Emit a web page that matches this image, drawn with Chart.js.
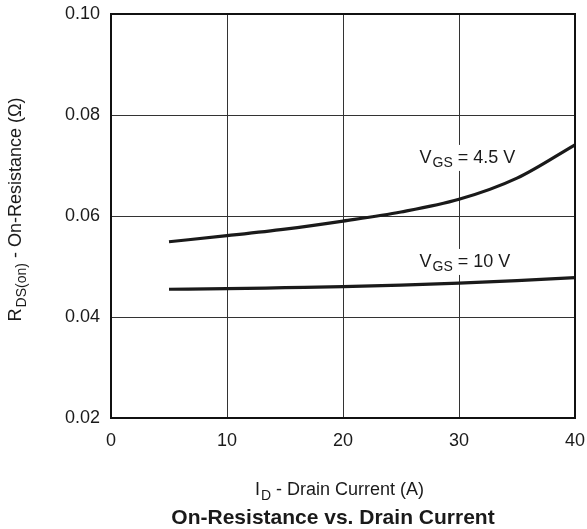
<!DOCTYPE html>
<html>
<head>
<meta charset="utf-8">
<script src="https://cdn.jsdelivr.net/npm/chart.js@4.4.0/dist/chart.umd.min.js"></script>
<style>
  html, body { margin: 0; padding: 0; background: #fff; }
  #wrap { width: 587px; height: 529px; }
</style>
</head>
<body>
<div id="wrap"><canvas id="rdsChart" width="587" height="529"></canvas></div>
<script>
// values
const currentA = [5, 10, 15, 20, 25, 30, 35, 40];
const rdsVgs45 = [0.0549, 0.0561, 0.0574, 0.0590, 0.0608, 0.0633, 0.0675, 0.0741];
const rdsVgs10 = [0.0455, 0.0456, 0.0458, 0.0460, 0.0463, 0.0467, 0.0472, 0.0478];
const xTicks = [0, 10, 20, 30, 40];
const yTicks = [0.02, 0.04, 0.06, 0.08, 0.10];
const curveLabels = [['V', 'GS', ' = 4.5 V'], ['V', 'GS', ' = 10 V']];

const FONT = '"Liberation Sans", Arial, Helvetica, sans-serif';
const INK = '#1a1a1a';

function toPoints(ys) {
  return currentA.map((x, i) => ({ x, y: ys[i] }));
}

// draw "main + subscript + rest" on a baseline
function subText(ctx, parts, x, y, size, align) {
  const [a, sub, rest] = parts;
  const subSize = Math.round(size * 0.78);
  ctx.font = size + 'px ' + FONT;
  const wa = ctx.measureText(a).width;
  const wr = ctx.measureText(rest).width;
  ctx.font = subSize + 'px ' + FONT;
  const ws = ctx.measureText(sub).width;
  const total = wa + ws + wr;
  const x0 = align === 'center' ? x - total / 2 : x;
  ctx.textBaseline = 'alphabetic';
  ctx.textAlign = 'left';
  ctx.font = size + 'px ' + FONT;
  ctx.fillText(a, x0, y);
  ctx.font = subSize + 'px ' + FONT;
  ctx.fillText(sub, x0 + wa + 1, y + size * 0.25);
  ctx.font = size + 'px ' + FONT;
  ctx.fillText(rest, x0 + wa + ws + 1, y);
  return total;
}

const decor = {
  id: 'decor',
  afterDatasetsDraw(chart) {
    const { ctx, chartArea: ca, scales } = chart;
    ctx.save();
    // frame
    ctx.strokeStyle = '#111';
    ctx.lineWidth = 2;
    ctx.strokeRect(ca.left, ca.top, ca.right - ca.left, ca.bottom - ca.top);

    // curve labels with white backing
    const anchors = [[26.6, 0.0717], [26.6, 0.0511]];
    curveLabels.forEach((parts, i) => {
      const px = scales.x.getPixelForValue(anchors[i][0]);
      const py = scales.y.getPixelForValue(anchors[i][1]);
      ctx.font = '18px ' + FONT;
      const w = ctx.measureText(parts[0] + parts[2]).width + 20;
      ctx.fillStyle = '#fff';
      ctx.fillRect(px - 3, py - 12, w + 6, 26);
      ctx.fillStyle = INK;
      subText(ctx, parts, px, py + 6, 18, 'left');
    });

    // x axis title
    ctx.fillStyle = INK;
    subText(ctx, ['I', 'D', ' - Drain Current (A)'], 339, 495, 18, 'center');

    // chart title
    ctx.font = 'bold 21px ' + FONT;
    ctx.textAlign = 'center';
    ctx.textBaseline = 'alphabetic';
    ctx.fillText('On-Resistance vs. Drain Current', 333, 524);

    // y axis title
    ctx.translate(21, 210);
    ctx.rotate(-Math.PI / 2);
    subText(ctx, ['R', 'DS(on)', ' - On-Resistance (\u03A9)'], 0, 0, 18, 'center');
    ctx.restore();
  }
};

const lineStyle = {
  borderColor: INK,
  borderWidth: 3.2,
  pointRadius: 0,
  fill: false,
  cubicInterpolationMode: 'monotone',
  showLine: true
};

new Chart(document.getElementById('rdsChart'), {
  type: 'scatter',
  data: {
    datasets: [
      { label: 'VGS = 4.5 V', data: toPoints(rdsVgs45), ...lineStyle },
      { label: 'VGS = 10 V', data: toPoints(rdsVgs10), ...lineStyle }
    ]
  },
  options: {
    responsive: false,
    animation: false,
    layout: { padding: { top: 14, right: 12, left: 0, bottom: 0 } },
    plugins: { legend: { display: false }, tooltip: { enabled: false } },
    scales: {
      x: {
        type: 'linear',
        min: xTicks[0],
        max: xTicks[xTicks.length - 1],
        afterFit: s => { s.height = 111; s.paddingLeft = 0; s.paddingRight = 0; },
        afterBuildTicks: s => { s.ticks = xTicks.map(v => ({ value: v })); },
        grid: { color: '#333', lineWidth: 1, drawTicks: false },
        border: { display: false },
        ticks: { padding: 12, color: INK, font: { family: FONT, size: 18 } }
      },
      y: {
        min: yTicks[0],
        max: yTicks[yTicks.length - 1],
        afterFit: s => { s.width = 111; s.paddingTop = 0; s.paddingBottom = 0; },
        afterBuildTicks: s => { s.ticks = yTicks.map(v => ({ value: v })); },
        grid: { color: '#333', lineWidth: 1, drawTicks: false },
        border: { display: false },
        ticks: {
          padding: 11, color: INK, font: { family: FONT, size: 18 },
          callback: v => v.toFixed(2)
        }
      }
    }
  },
  plugins: [decor]
});
</script>
</body>
</html>
